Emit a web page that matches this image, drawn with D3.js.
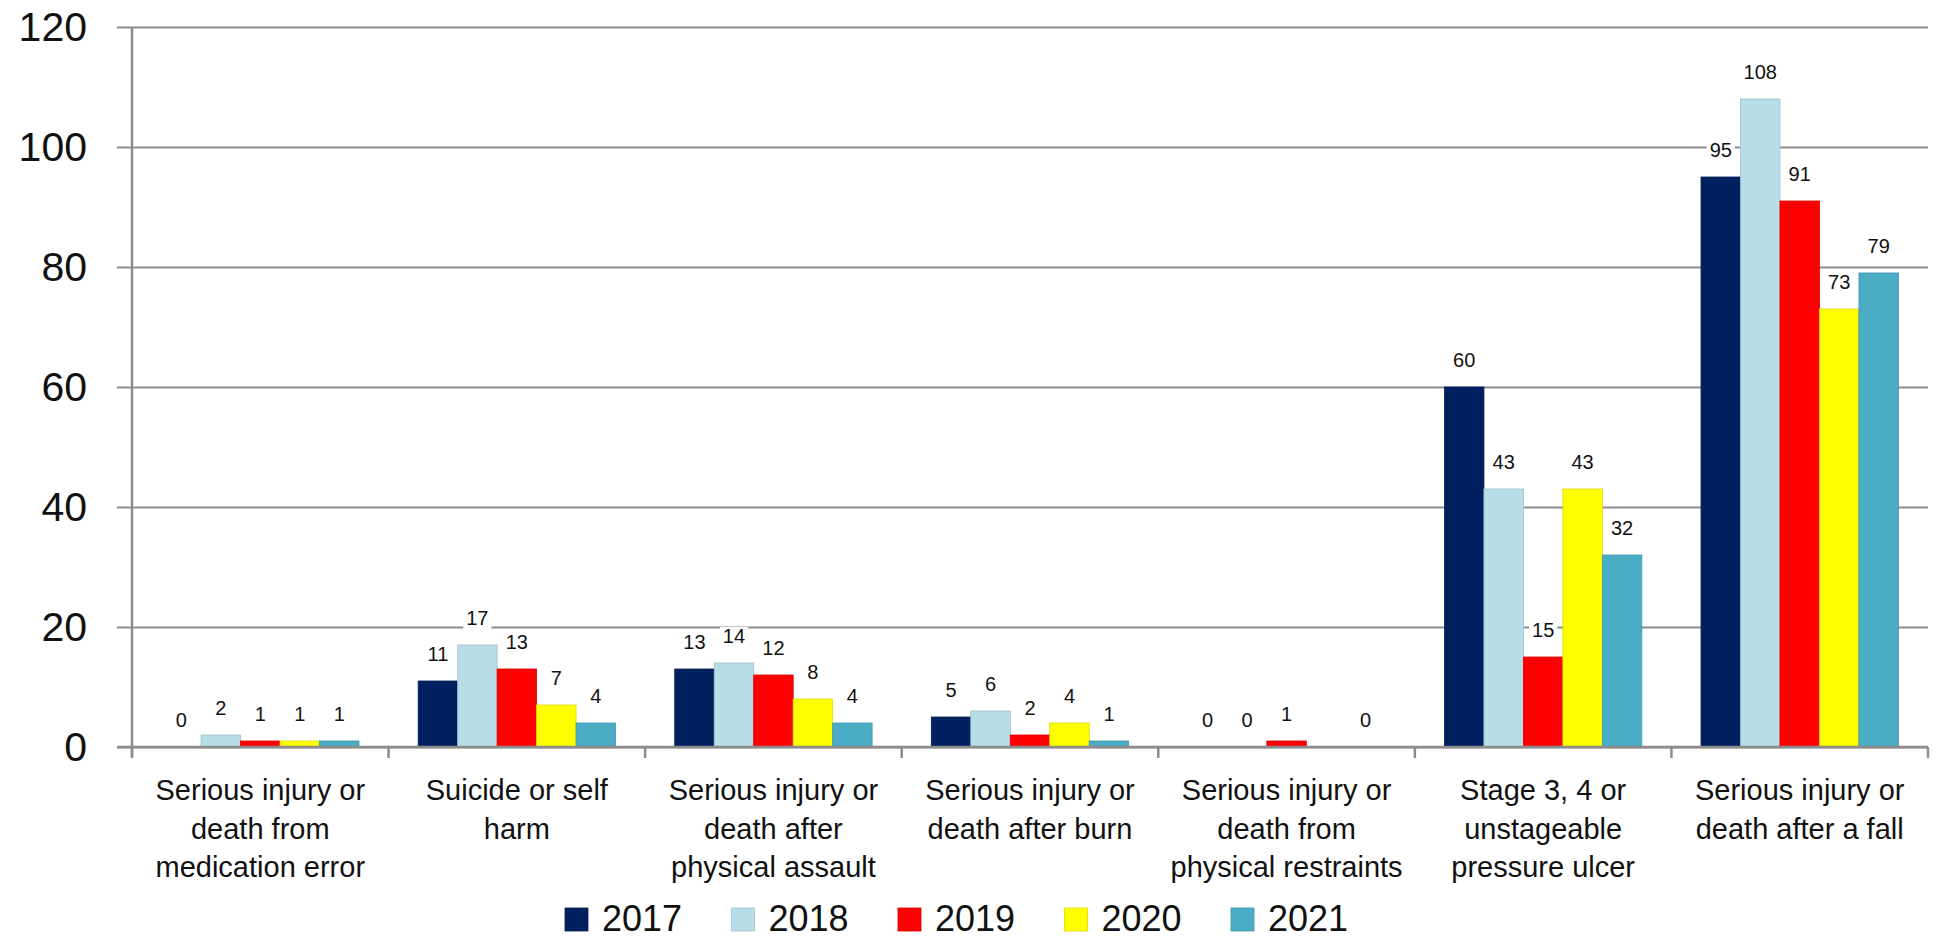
<!DOCTYPE html>
<html lang="en">
<head>
<meta charset="utf-8">
<title>Serious incidents by year</title>
<script src="https://d3js.org/d3.v7.min.js"></script>
<style>
  body { margin: 0; background: #fff; }
  text { font-family: "Liberation Sans", Arial, sans-serif; fill: #111; }
</style>
</head>
<body>
<script>
// categories (tick labels, already broken into lines)
var categories = [
  ["Serious injury or", "death from", "medication error"],
  ["Suicide or self", "harm"],
  ["Serious injury or", "death after", "physical assault"],
  ["Serious injury or", "death after burn"],
  ["Serious injury or", "death from", "physical restraints"],
  ["Stage 3, 4 or", "unstageable", "pressure ulcer"],
  ["Serious injury or", "death after a fall"]
];
var years = ["2017", "2018", "2019", "2020", "2021"];
var colors = ["#002060", "#b7dde8", "#ff0000", "#ffff00", "#4bacc6"];

// values per year, in category order (null = no value)
var v2017 = [0, 11, 13, 5, 0, 60, 95];
var v2018 = [2, 17, 14, 6, 0, 43, 108];
var v2019 = [1, 13, 12, 2, 1, 15, 91];
var v2020 = [1, 7, 8, 4, null, 43, 73];
var v2021 = [1, 4, 4, 1, 0, 32, 79];
var series = [v2017, v2018, v2019, v2020, v2021];

var yTicks = [0, 20, 40, 60, 80, 100, 120];

var w = 1936, h = 942;
var padLeft = 132, padRight = 1928, padTop = 27, padBottom = 747;

var svg = d3.select("body").append("svg")
  .attr("width", w)
  .attr("height", h);

var catIdx = categories.map(function(d, i) { return i; });

var x0 = d3.scaleBand()
  .domain(catIdx)
  .range([padLeft, padRight])
  .paddingInner(0)
  .paddingOuter(0);

var x1 = d3.scaleBand()
  .domain(years)
  .range([0, x0.bandwidth()])
  .paddingInner(0)
  .paddingOuter(0.75);

var y = d3.scaleLinear()
  .domain([0, 120])
  .range([padBottom, padTop]);

//gridlines
var grid = svg.append("g")
  .attr("transform", "translate(" + (padLeft - 15) + ",0)")
  .call(d3.axisRight(y).tickValues(yTicks).tickSize(padRight - padLeft + 15).tickFormat(""));
grid.select(".domain").remove();
grid.selectAll("line").attr("stroke", "#8c8c8c").attr("stroke-width", 2);

//y labels
var yAxis = svg.append("g")
  .attr("transform", "translate(" + padLeft + ",0)")
  .call(d3.axisLeft(y).tickValues(yTicks).tickSize(0).tickPadding(45));
yAxis.select(".domain").remove();
yAxis.selectAll("text")
  .attr("font-size", "41px")
  .attr("font-family", "Liberation Sans, Arial, sans-serif")
  .attr("fill", "#111");

//bars
series.forEach(function(vals, si) {
  var g = svg.append("g");
  vals.forEach(function(d, ci) {
    if (d === null) return;
    var bx = x0(ci) + x1(years[si]);
    g.append("rect")
      .attr("x", bx)
      .attr("y", y(d))
      .attr("width", x1.bandwidth())
      .attr("height", y(0) - y(d))
      .attr("fill", colors[si])
      .attr("stroke", d3.color(colors[si]).darker(0.4))
      .attr("stroke-width", d > 0 ? 0.8 : 0);
  });
});

//axis lines
svg.append("line")
  .attr("x1", padLeft).attr("x2", padLeft)
  .attr("y1", padTop).attr("y2", padBottom + 10)
  .attr("stroke", "#8c8c8c").attr("stroke-width", 2.5);
svg.append("line")
  .attr("x1", padLeft - 15).attr("x2", padRight)
  .attr("y1", padBottom).attr("y2", padBottom)
  .attr("stroke", "#8c8c8c").attr("stroke-width", 2.5);

//category ticks
var bounds = catIdx.map(function(i) { return x0(i); }).concat([padRight]);
svg.append("g").selectAll("line")
  .data(bounds)
  .enter()
  .append("line")
  .attr("x1", function(d) { return d; })
  .attr("x2", function(d) { return d; })
  .attr("y1", padBottom)
  .attr("y2", padBottom + 11)
  .attr("stroke", "#8c8c8c")
  .attr("stroke-width", 2.5);

//category labels
var catG = svg.append("g").selectAll("text")
  .data(categories)
  .enter()
  .append("text")
  .attr("text-anchor", "middle")
  .attr("font-size", "29px")
  .attr("x", function(d, i) { return x0(i) + x0.bandwidth() / 2; })
  .attr("y", 800);
catG.selectAll("tspan")
  .data(function(d) { return d; })
  .enter()
  .append("tspan")
  .attr("x", function() { return d3.select(this.parentNode).attr("x"); })
  .attr("dy", function(d, i) { return i === 0 ? 0 : 38.5; })
  .text(function(d) { return d; });

//data labels with white box
series.forEach(function(vals, si) {
  var g = svg.append("g");
  vals.forEach(function(d, ci) {
    if (d === null) return;
    var cx = x0(ci) + x1(years[si]) + x1.bandwidth() / 2;
    var lg = g.append("g");
    var t = lg.append("text")
      .attr("text-anchor", "middle")
      .attr("font-size", "20px")
      .attr("x", cx)
      .attr("y", y(d) - 20)
      .attr("fill", "#222")
      .text(d);
    var bb = t.node().getBBox();
    lg.insert("rect", "text")
      .attr("x", bb.x - 3)
      .attr("y", bb.y + 2)
      .attr("width", bb.width + 6)
      .attr("height", bb.height - 2)
      .attr("fill", "#fff");
  });
});

//legend
var legend = svg.append("g").selectAll("g")
  .data(years)
  .enter()
  .append("g")
  .attr("transform", function(d, i) { return "translate(" + (565 + i * 166.5) + ",908)"; });
legend.append("rect")
  .attr("width", 23)
  .attr("height", 23)
  .attr("fill", function(d, i) { return colors[i]; })
  .attr("stroke", function(d, i) { return d3.color(colors[i]).darker(0.4); })
  .attr("stroke-width", 0.8);
legend.append("text")
  .attr("x", 37)
  .attr("y", 23)
  .attr("font-size", "36px")
  .text(function(d) { return d; });
</script>
</body>
</html>
